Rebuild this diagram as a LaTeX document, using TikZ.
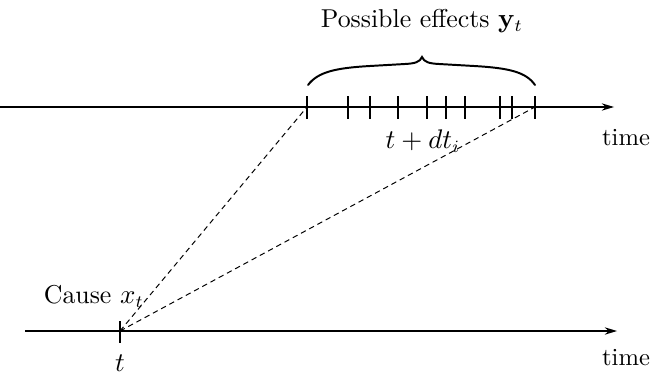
\documentclass[tikz,border=0pt]{standalone}
\usetikzlibrary{arrows.meta}
\begin{document}
\begin{tikzpicture}[x=0.4065pt,y=-0.4065pt,
  axis/.style={line width=0.5pt,-{Stealth[length=5pt,width=3pt]}},
  tickmark/.style={line width=0.5pt},
  conn/.style={line width=0.4pt,dash pattern=on 2.2pt off 1.6pt},
  lbl/.style={inner sep=0pt,font=\fontsize{10.5}{12}\selectfont},
  tlbl/.style={inner sep=0pt,font=\normalsize}]
\useasboundingbox (0,0) rectangle (666,374);
% axes
\coordinate (a1s) at (0,107);
\coordinate (a1e) at (614,107);
\coordinate (a2s) at (25,331);
\coordinate (a2e) at (617,331);
\draw[axis] (a1s) -- (a1e);
\draw[axis] (a2s) -- (a2e);
% top ticks
\foreach \x/\n in {307/p1,348/p2,370/p3,398/p4,427/p5,446/p6,465/p7,500/p8,512/p9,535/p10}{
  \coordinate (\n) at (\x,107);
  \draw[tickmark] (\x,96) -- (\x,119);
}
% bottom tick
\coordinate (c) at (120,331);
\draw[tickmark] (120,321) -- (120,343);
% brace
\coordinate (bl) at (308,85);
\coordinate (bm) at (422,57);
\coordinate (br) at (535,85);
\draw[line width=0.8pt,line cap=round]
  (bl) .. controls (318,72) and (335,68) .. (370,66) -- (405,64)
  .. controls (415,63.5) and (420,62) .. (bm)
  .. controls (424,62) and (429,63.5) .. (439,64) -- (474,66)
  .. controls (509,68) and (526,72) .. (br);
% dashed connectors
\draw[conn] (c) -- (p1);
\draw[conn] (c) -- (p10);
% labels
\node[lbl] (eff) at (422,21) {Possible effects $\mathbf{y}_t$};
\node[lbl] (dt) at (423,141) {$t+dt_i$};
\node[tlbl] (time1) at (626,138) {time};
\node[tlbl] (time2) at (626,358) {time};
\node[lbl] (cause) at (94,296) {Cause $x_t$};
\node[lbl] (tl) at (120,363) {$t$};
\end{tikzpicture}
\end{document}
